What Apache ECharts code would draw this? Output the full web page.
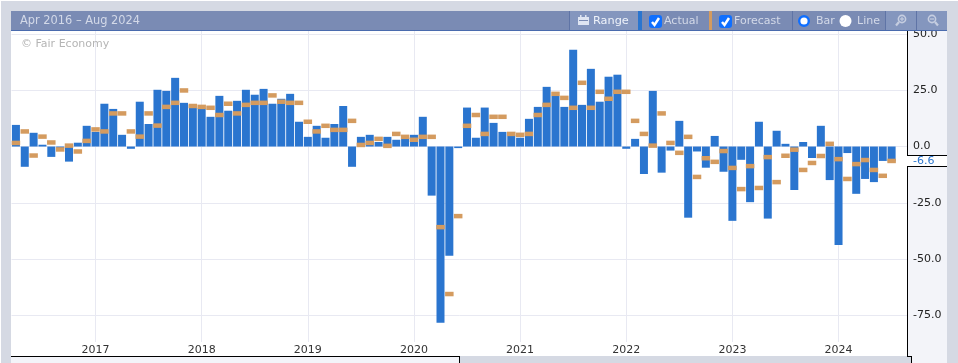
<!DOCTYPE html>
<html>
<head>
<meta charset="utf-8">
<style>
  html, body { margin: 0; padding: 0; background: #d5d9e3; }
  #chart { width: 958px; height: 363px; }
</style>
<script src="https://cdn.jsdelivr.net/npm/echarts@6/dist/echarts.min.js"></script>
</head>
<body>
<div id="chart"></div>
<script>
// monthly values, Apr 2016 onward
const actual = [
  9.6, -9, 6.1, 0.8, -4.6, -1, -6.7, 1.7, 9.2,
  6.5, 19, 16.7, 5.2, -1, 19.9, 10, 25.2, 24.7, 30.5, 19.4, 18.5, 17,
  13.2, 22.5, 15.9, 20.3, 25.2, 23, 25.6, 19, 21.2, 23.4, 11, 4.3,
  9.2, 3.9, 10, 18, -9, 4.3, 5.2, 2, 4.3, 3, 4, 5.2,
  13.2, -21.8, -78.2, -48.5, -0.7, 17.3, 3.9, 17.3, 10.5, 6.5, 4.9, 3.9,
  12.3, 17.6, 26.5, 22.5, 17.6, 43, 18.5, 34.5, 19.9, 31, 31.9, -1,
  3.4, -12.2, 24.7, -11.6, -1.8, 11.4, -31.6, -2.2, -9.4, 4.7, -11.2, -33,
  -5.9, -24.7, 11, -32, 7, 1.2, -19.3, 2, -5.1, 9.2, -14.9,
  -43.7, -2.9, -21, -14.4, -15.8, -6.4, -6.6
]
const forecast = [
  1.6, 6.7, -4, 4.4, 1.8, -1.3, 0.4, -2.2, 2.5,
  7.6, 6.7, 14.7, 14.7, 6.7, 4.4, 14.7, 9.3, 17.6, 19.4, 24.9, 18, 17.6,
  17.2, 14, 19, 14.7, 18.5, 19.4, 19.4, 22.7, 19.9, 19.4, 19.4, 11,
  6.7, 9.2, 7.4, 7.4, 11.4, 0.7, 1.6, 3.4, 0.3, 5.6, 4.3, 3,
  4.3, 4.3, -35.8, -65.5, -30.9, 9.2, 14, 5.6, 13.2, 13.2, 5.6, 5.2,
  5.6, 14, 18.5, 23.4, 21.6, 17.2, 28.3, 17.2, 24.3, 21.2, 24.3, 24.3,
  11.4, 5.6, 0.4, 14.7, 1.6, -2.8, 4.3, -13.5, -5.2, -6.8, -2, -9.5,
  -18.9, -8.7, -18.4, -4.7, -15.8, -4.1, -1.4, -10.4, -7.3, -4.2, 1.2,
  -5.6, -14.4, -7.8, -6, -10.4, -13, -6.4
]
const yearTicks = [9, 21, 33, 45, 57, 69, 81, 93]
const yearLabels = ['2017', '2018', '2019', '2020', '2021', '2022', '2023', '2024']
const valueTicks = [50, 25, 0, -25, -50, -75]

const font = 'DejaVu Sans'
const barColor = '#2a75cf'
const forecastColor = '#d49b5f'
const headColor = '#7a8bb4'
const headLight = '#8496be'
const headLine = '#4a6bae'
const headText = '#d3d9e8'
const iconColor = '#c5cde0'
const lineDark = '#000000'
const panelColor = '#f3f4f9'
const pageColor = '#d5d9e3'

const rect = (x, y, width, height, fill, z) => ({
  type: 'rect', silent: true, z: z, shape: { x, y, width, height }, style: { fill }
})
const hline = (x1, y1, x2, y2, stroke, z, lineWidth = 1) => ({
  type: 'line', silent: true, z: z, shape: { x1, y1, x2, y2 }, style: { stroke, lineWidth }
})
const label = (x, y, text, fill, z, fontSize = 11) => ({
  type: 'text', silent: true, z: z, x, y,
  style: { text, fill, fontFamily: font, fontSize, verticalAlign: 'middle' }
})
const checkbox = (x, y, z) => [
  { type: 'rect', silent: true, z: z, shape: { x, y, width: 13, height: 13, r: 3 }, style: { fill: '#0f6fff' } },
  {
    type: 'polyline', silent: true, z: z + 1,
    shape: { points: [[x + 3, y + 7], [x + 5.5, y + 10], [x + 10, y + 3]] },
    style: { stroke: '#ffffff', lineWidth: 2.5, fill: null }
  }
]
const radio = (cx, cy, on, z) => ({
  type: 'circle', silent: true, z: z, shape: { cx, cy, r: on ? 4.8 : 6 },
  style: { fill: '#ffffff', stroke: on ? '#0f6fff' : '#ffffff', lineWidth: on ? 2.4 : 0 }
})
// handleX: direction of the handle, -1 to the lower left, 1 to the lower right
const magnifier = (cx, cy, handleX, z) => [
  { type: 'circle', silent: true, z: z, shape: { cx, cy, r: 3.6 }, style: { fill: null, stroke: iconColor, lineWidth: 1.6 } },
  hline(cx + handleX * 3, cy + 3, cx + handleX * 6, cy + 6.5, iconColor, z, 2.2),
  hline(cx - 2, cy, cx + 2, cy, iconColor, z, 1.2)
]

const headZ = 100
const chrome = [
  // plot background and side panels
  rect(11, 31, 896, 325, '#ffffff', -2),
  rect(907, 30, 40, 333, panelColor, -2),
  rect(11, 357, 448, 6, panelColor, -2),
  rect(460, 356, 451, 7, pageColor, -2),
  rect(0, 0, 1, 363, '#ffffff', -2),
  hline(11, 356.5, 459, 356.5, lineDark, 10),
  hline(459.5, 356, 459.5, 363, lineDark, 10),
  hline(907.5, 30, 907.5, 356, lineDark, 10),
  hline(911.5, 356, 911.5, 363, lineDark, 10),
  hline(907, 356.5, 911, 356.5, lineDark, 10),
  // last value tag
  rect(907, 155, 40, 11, '#ffffff', 20),
  hline(907, 155.5, 947, 155.5, lineDark, 21),
  hline(907, 166.5, 947, 166.5, lineDark, 21),
  label(913, 161.5, actual[actual.length - 1].toFixed(1), barColor, 22),
  // header
  rect(1, 1, 957, 10, pageColor, headZ),
  rect(0, 0, 958, 1, '#ffffff', headZ),
  rect(11, 11, 936, 19, headColor, headZ),
  rect(11, 30, 936, 1, headLine, headZ),
  label(20, 21.5, 'Apr 2016 \u2013 Aug 2024', headText, headZ + 1, 11.4),
  rect(570, 11, 68, 19, headLight, headZ),
  rect(569, 11, 1, 19, '#5f74a6', headZ),
  rect(578, 17, 11, 8, '#dfe5f2', headZ + 1),
  rect(580, 15, 1.5, 3, '#dfe5f2', headZ + 1),
  rect(585, 15, 1.5, 3, '#dfe5f2', headZ + 1),
  rect(579, 20, 9, 1, '#7a8bb4', headZ + 2),
  label(593, 21.5, 'Range', '#eef2fa', headZ + 1, 11.3),
  rect(638, 11, 4, 19, barColor, headZ),
  ...checkbox(649, 15, headZ + 1),
  label(664, 21.5, 'Actual', headText, headZ + 1),
  rect(709, 11, 3, 19, forecastColor, headZ),
  ...checkbox(719, 15, headZ + 1),
  label(734, 21.5, 'Forecast', headText, headZ + 1),
  rect(792, 11, 1, 19, '#5f74a6', headZ),
  radio(804, 21, true, headZ + 1),
  label(816, 21.5, 'Bar', headText, headZ + 1),
  radio(845.5, 21, false, headZ + 1),
  label(857, 21.5, 'Line', headText, headZ + 1),
  rect(885, 11, 31, 19, headLight, headZ),
  rect(885, 11, 1, 19, '#5f74a6', headZ + 1),
  rect(916, 11, 31, 19, headLight, headZ),
  rect(916, 11, 1, 19, '#5f74a6', headZ + 1),
  ...magnifier(902, 19, -1, headZ + 2),
  hline(902, 17, 902, 21, iconColor, headZ + 2, 1.2),
  ...magnifier(932, 19, 1, headZ + 2),
  label(21, 44.5, '\u00a9 Fair Economy', '#b5b5b5', headZ + 1)
]

const myChart = echarts.init(document.getElementById('chart'))
const option = {
  animation: false,
  backgroundColor: pageColor,
  graphic: { elements: chrome },
  grid: { left: 11.5, right: 51, top: 31, bottom: 21 },
  xAxis: {
    type: 'value',
    min: -0.5,
    max: 100.74,
    axisLine: { show: false },
    axisTick: { show: false, customValues: yearTicks },
    axisLabel: {
      customValues: yearTicks,
      margin: 3,
      color: '#333333',
      fontFamily: font,
      fontSize: 11,
      formatter: (value) => yearLabels[yearTicks.indexOf(value)]
    },
    splitLine: { show: true, lineStyle: { color: '#e8e9f2', width: 1 } }
  },
  yAxis: {
    type: 'value',
    position: 'right',
    min: -86.8,
    max: 51.3,
    axisLine: { show: false },
    axisTick: { show: false, customValues: valueTicks },
    axisLabel: {
      customValues: valueTicks,
      margin: 6,
      align: 'left',
      padding: [3, 0, 0, 0],
      color: '#222222',
      fontFamily: font,
      fontSize: 11,
      formatter: (value) => value.toFixed(1)
    },
    splitLine: { show: true, lineStyle: { color: '#e8e9f2', width: 1 } }
  },
  series: [
    {
      name: 'Actual',
      type: 'bar',
      barWidth: 8,
      itemStyle: { color: barColor },
      data: actual.map((v, i) => [i, v])
    },
    {
      name: 'Forecast',
      type: 'scatter',
      symbol: 'rect',
      symbolSize: [8.5, 4.5],
      itemStyle: { color: forecastColor, opacity: 1 },
      z: 3,
      data: forecast.map((v, i) => [i, v])
    }
  ]
}
myChart.setOption(option)
</script>
</body>
</html>
